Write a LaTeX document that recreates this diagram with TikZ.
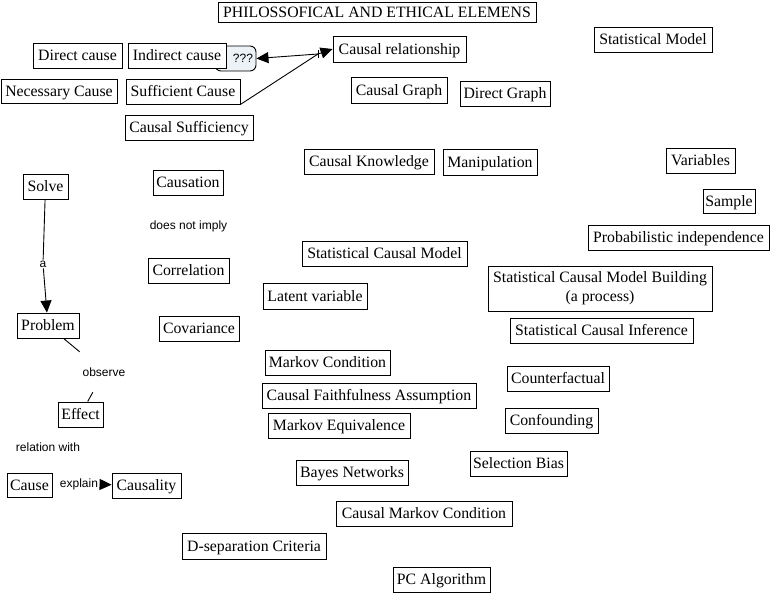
\documentclass[tikz,border=0pt]{standalone}
\usepackage{fontspec}
\setmainfont{Liberation Serif}
\newfontfamily\lblfont{Liberation Sans}
\usetikzlibrary{arrows.meta}
\tikzset{
  box/.style={draw=black, line width=0.9pt, fill=white, inner sep=0pt, align=center,
              text height=10.5pt, text depth=0pt,
              font=\fontsize{15.8}{19}\selectfont},
  qbox/.style={draw=black, line width=0.9pt, fill=qfill, rounded corners=6pt, inner sep=0pt,
              font=\lblfont\fontsize{12}{14}\selectfont},
  lbl/.style={inner sep=0pt, font=\lblfont\fontsize{12}{14}\selectfont},
  conn/.style={draw=black, line width=0.9pt},
  arr/.style={conn, -{Triangle[length=12pt, width=11pt]}},
}
\definecolor{qfill}{RGB}{236,242,246}
\begin{document}
\begin{tikzpicture}[x=1pt,y=-1pt]
\useasboundingbox (0,0) rectangle (771,595);
% title
\node[box, minimum width=318, minimum height=20] (title) at (377,12) {PHILOSSOFICAL AND ETHICAL ELEMENS};
% top-left cluster
\node[qbox, minimum width=41, minimum height=25, text width=35, align=right] (qqq) at (235.5,58.5) {???};
\node[box, minimum width=89, minimum height=25] (direct) at (77.5,55.5) {Direct cause};
\node[box, minimum width=98, minimum height=25] (indirect) at (177,55.5) {Indirect cause};
\node[box, minimum width=133, minimum height=26] (causalrel) at (399.5,49) {Causal relationship};
\node[box, minimum width=118, minimum height=25] (statmodel) at (653,39.5) {Statistical Model};
\node[box, minimum width=116, minimum height=24] (necessary) at (59,91) {Necessary Cause};
\node[box, minimum width=114, minimum height=25] (sufficient) at (183,91.5) {Sufficient Cause};
\node[box, minimum width=96, minimum height=26] (causalgraph) at (399,90) {Causal Graph};
\node[box, minimum width=90, minimum height=25] (directgraph) at (505,93.5) {Direct Graph};
\node[box, minimum width=128, minimum height=25] (causalsuff) at (189,127.5) {Causal Sufficiency};
\node[box, minimum width=130, minimum height=25] (knowledge) at (369,161.5) {Causal Knowledge};
\node[box, minimum width=94, minimum height=26] (manip) at (490,162) {Manipulation};
\node[box, minimum width=69, minimum height=25] (variables) at (700.5,160.5) {Variables};
\node[box, minimum width=45, minimum height=25] (solve) at (45.5,186.5) {Solve};
\node[box, minimum width=70, minimum height=25] (causation) at (188,182.5) {Causation};
\node[lbl] (notimply) at (188.5,226) {does not imply};
\node[box, minimum width=52, minimum height=24] (sample) at (729,201) {Sample};
\node[box, minimum width=181, minimum height=25] (probind) at (678.5,237.5) {Probabilistic independence};
\node[box, minimum width=165, minimum height=25] (scm) at (384.5,253.5) {Statistical Causal Model};
\node[box, minimum width=81, minimum height=25] (correlation) at (188.5,270.5) {Correlation};
\node[box, minimum width=224, minimum height=45, text height=, text depth=] (scmb) at (600,288.5) {Statistical Causal Model Building\\(a process)};
\node[box, minimum width=104, minimum height=26] (latent) at (315,296) {Latent variable};
\node[box, minimum width=62, minimum height=25] (problem) at (48,325.5) {Problem};
\node[box, minimum width=80, minimum height=25] (covariance) at (199,328.5) {Covariance};
\node[box, minimum width=183, minimum height=25] (sci) at (601.5,330.5) {Statistical Causal Inference};
\node[box, minimum width=125, minimum height=25] (markovcond) at (327.5,362.5) {Markov Condition};
\node[box, minimum width=102, minimum height=25] (counterfactual) at (558,378.5) {Counterfactual};
\node[box, minimum width=214, minimum height=25] (faithful) at (369,395.5) {Causal Faithfulness Assumption};
\node[box, minimum width=45, minimum height=25] (effect) at (80.5,414.5) {Effect};
\node[box, minimum width=93, minimum height=25] (confounding) at (551.5,420.5) {Confounding};
\node[box, minimum width=142, minimum height=25] (markoveq) at (339,425.5) {Markov Equivalence};
\node[box, minimum width=97, minimum height=25] (selection) at (518.5,463.5) {Selection Bias};
\node[box, minimum width=112, minimum height=25] (bayes) at (352,472.5) {Bayes Networks};
\node[box, minimum width=45, minimum height=24] (cause) at (29.5,485) {Cause};
\node[box, minimum width=69, minimum height=25] (causality) at (146.5,485.5) {Causality};
\node[box, minimum width=176, minimum height=25] (cmc) at (424,513.5) {Causal Markov Condition};
\node[box, minimum width=144, minimum height=26] (dsep) at (254,546) {D-separation Criteria};
\node[box, minimum width=97, minimum height=25] (pc) at (441.5,579.5) {PC Algorithm};
% labels
\node[lbl, minimum width=70, minimum height=40] (observe) at (104,372) {observe};
\node[lbl] (relwith) at (48,447) {relation with};
\node[lbl, fill=white, inner sep=1pt] (alab) at (43,264) {a};
\node[lbl, minimum width=50] (explain) at (79,484) {explain};
% connectors
\coordinate (junc) at (318,54);
\draw[conn] (sufficient.south east) -- (junc);
\draw[arr] (junc) -- (qqq.east);
\draw[arr] (junc) -- (causalrel.west);
\draw[conn] (junc) ++(0,-4) -- ++(0,8);
\draw[conn] (solve) -- (alab);
\draw[arr] (alab) -- (problem);
\draw[conn] (problem) -- (observe);
\draw[conn] (observe) -- (effect);
\draw[arr] (explain) -- (causality);
\end{tikzpicture}
\end{document}
